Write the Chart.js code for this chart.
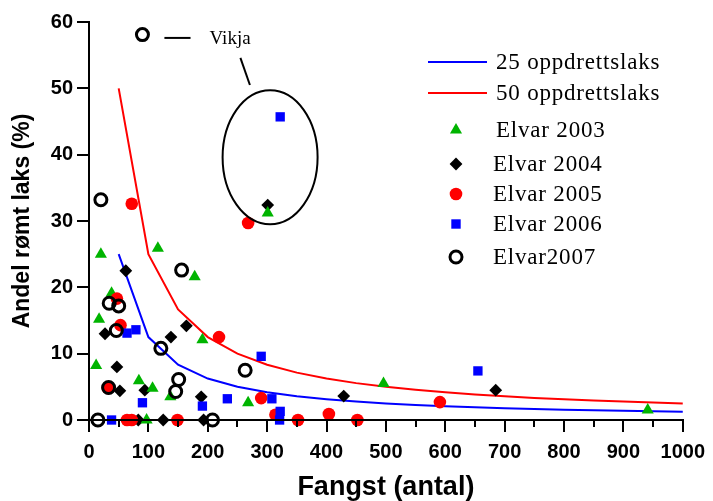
<!DOCTYPE html>
<html>
<head>
<meta charset="utf-8">
<script src="https://cdn.jsdelivr.net/npm/chart.js@4.4.0/dist/chart.umd.min.js"></script>
<style>
html, body { margin: 0; padding: 0; background: #fff; }
#wrap { width: 713px; height: 501px; }
</style>
</head>
<body>
<div id="wrap"><canvas id="chart" width="713" height="501"></canvas></div>
<script>
// Model curves (catch -> share of escaped salmon)
const curveX = [50, 100, 150, 200, 250, 300, 350, 400, 450, 500, 550, 600, 650, 700, 750, 800, 850, 900, 950, 1000];
const fish25 = [25, 12.5, 8.33, 6.25, 5, 4.17, 3.57, 3.13, 2.78, 2.5, 2.27, 2.08, 1.92, 1.79, 1.67, 1.56, 1.47, 1.39, 1.32, 1.25];
const fish50 = [50, 25, 16.67, 12.5, 10, 8.33, 7.14, 6.25, 5.56, 5, 4.55, 4.17, 3.85, 3.57, 3.33, 3.13, 2.94, 2.78, 2.63, 2.5];

// Rivers per year: [fangst, andel %]
const elvar2003 = [[12, 8.2], [20, 25], [17, 15.2], [38, 19.1], [116, 25.9], [178, 21.6], [191, 12.1], [84, 5.9],
    [107, 4.8], [137, 3.5], [97, 0], [268, 2.6], [301, 31.2], [496, 5.5], [941, 1.5]];
const elvar2004 = [[62, 22.5], [164, 14.2], [138, 12.5], [27, 13], [47, 8], [52, 4.4], [94, 4.5], [189, 3.5],
    [83, 0], [125, 0], [193, 0], [301, 32.4], [429, 3.6], [685, 4.5]];
const elvar2005 = [[72, 32.6], [268, 29.7], [47, 18.3], [53, 14.3], [32, 4.8], [219, 12.5], [290, 3.3], [64, 0],
    [72, 0], [149, 0], [314, 0.8], [352, 0], [404, 0.9], [452, 0], [591, 2.7]];
const elvar2006 = [[322, 45.7], [64, 13.1], [79, 13.6], [90, 2.6], [191, 2.1], [233, 3.2], [290, 9.6], [308, 3.2],
    [322, 1.3], [321, 0], [38, 0], [655, 7.4]];
const elvar2007 = [[90, 58.1], [20, 33.2], [156, 22.6], [34, 17.6], [50, 17.2], [46, 13.5], [121, 10.8], [33, 4.9],
    [263, 7.5], [151, 6.1], [146, 4.3], [15, 0], [208, 0]];

// Axis ticks
const xTickStep = 100;
const yTickStep = 10;

// Annotation (data coordinates)
const vikjaLabel = 'Vikja';
const vikjaLine = [[127, 57.6], [171, 57.6]];
const vikjaText = [203, 57.4];
const ellipseCenter = [305, 39.6];
const ellipseRadius = [80, 10.1];
const ellipsePointer = [[255, 54.6], [271, 50.5]];

const sansFont = '"Liberation Sans", Arial, sans-serif';
const serifFont = '"Liberation Serif", "Times New Roman", serif';

function pts(list) {
    return list.map(p => ({ x: p[0], y: p[1] }));
}

function curve(values) {
    return curveX.map((x, i) => ({ x: x, y: values[i] }));
}

const green = '#00b400';

// legend rows (drawn by plugin)
const legendRows = [
    { kind: 'line', color: '#0000ff', text: '25 oppdrettslaks' },
    { kind: 'line', color: '#ff0000', text: '50 oppdrettslaks' },
    { kind: 'triangle', color: green, text: 'Elvar 2003' },
    { kind: 'diamond', color: '#000', text: 'Elvar 2004' },
    { kind: 'circle', color: '#ff0000', text: 'Elvar 2005' },
    { kind: 'square', color: '#0000ff', text: 'Elvar 2006' },
    { kind: 'ring', color: '#000', text: 'Elvar2007' }
];
const legendY = [62, 93, 130, 164, 194, 224, 257];

function drawMarker(ctx, kind, x, y, color) {
    ctx.save();
    ctx.fillStyle = color;
    ctx.strokeStyle = color;
    ctx.beginPath();
    if (kind === 'triangle') {
        const r = 7;
        ctx.moveTo(x, y - r);
        ctx.lineTo(x + r * 0.866, y + r * 0.5);
        ctx.lineTo(x - r * 0.866, y + r * 0.5);
        ctx.closePath();
        ctx.fill();
    } else if (kind === 'diamond') {
        const r = 6.4;
        ctx.moveTo(x, y - r);
        ctx.lineTo(x + r, y);
        ctx.lineTo(x, y + r);
        ctx.lineTo(x - r, y);
        ctx.closePath();
        ctx.fill();
    } else if (kind === 'circle') {
        ctx.arc(x, y, 6.3, 0, Math.PI * 2);
        ctx.fill();
    } else if (kind === 'square') {
        ctx.rect(x - 4.7, y - 4.7, 9.4, 9.4);
        ctx.fill();
    } else if (kind === 'ring') {
        ctx.lineWidth = 3;
        ctx.arc(x, y, 6, 0, Math.PI * 2);
        ctx.stroke();
    }
    ctx.restore();
}

const extrasPlugin = {
    id: 'extras',
    afterDatasetsDraw(chart) {
        const ctx = chart.ctx;
        const xs = chart.scales.x;
        const ys = chart.scales.y;
        const px = v => xs.getPixelForValue(v);
        const py = v => ys.getPixelForValue(v);

        ctx.save();
        ctx.strokeStyle = '#000';
        ctx.lineWidth = 2;

        // Vikja pointer line
        ctx.beginPath();
        ctx.moveTo(px(vikjaLine[0][0]), py(vikjaLine[0][1]));
        ctx.lineTo(px(vikjaLine[1][0]), py(vikjaLine[1][1]));
        ctx.stroke();

        // ellipse around Vikja points
        const cx = px(ellipseCenter[0]);
        const cy = py(ellipseCenter[1]);
        const rx = px(ellipseCenter[0] + ellipseRadius[0]) - cx;
        const ry = cy - py(ellipseCenter[1] + ellipseRadius[1]);
        ctx.beginPath();
        ctx.ellipse(cx, cy, rx, ry, 0, 0, Math.PI * 2);
        ctx.stroke();

        ctx.beginPath();
        ctx.moveTo(px(ellipsePointer[0][0]), py(ellipsePointer[0][1]));
        ctx.lineTo(px(ellipsePointer[1][0]), py(ellipsePointer[1][1]));
        ctx.stroke();

        ctx.fillStyle = '#000';
        ctx.font = '19px ' + serifFont;
        ctx.textAlign = 'left';
        ctx.textBaseline = 'middle';
        ctx.fillText(vikjaLabel, px(vikjaText[0]), py(vikjaText[1]));
        ctx.restore();
    },
    afterDraw(chart) {
        const ctx = chart.ctx;
        const xs = chart.scales.x;
        const area = chart.chartArea;

        // minor x ticks
        ctx.save();
        ctx.strokeStyle = '#000';
        ctx.lineWidth = 2;
        for (let v = 50; v < 1000; v += 100) {
            const x = Math.round(xs.getPixelForValue(v));
            ctx.beginPath();
            ctx.moveTo(x, xs.top);
            ctx.lineTo(x, xs.top + 7);
            ctx.stroke();
        }

        // legend
        const lineX0 = area.left + 339;
        const lineX1 = area.left + 398;
        const markX = area.left + 367;
        ctx.font = '23px ' + serifFont;
        ctx.letterSpacing = '0.8px';
        ctx.textBaseline = 'middle';
        ctx.textAlign = 'left';
        legendRows.forEach((row, i) => {
            const y = area.top + legendY[i] - 22;
            if (row.kind === 'line') {
                ctx.strokeStyle = row.color;
                ctx.lineWidth = 2;
                ctx.beginPath();
                ctx.moveTo(lineX0, y);
                ctx.lineTo(lineX1, y);
                ctx.stroke();
            } else {
                drawMarker(ctx, row.kind, markX, y, row.color);
            }
            ctx.fillStyle = '#000';
            const tx = (i < 3) ? area.left + 407 : area.left + 404;
            ctx.fillText(row.text, tx, y + 1);
        });
        ctx.restore();
    }
};

const axisGrid = {
    drawOnChartArea: false,
    drawTicks: true,
    tickLength: 12,
    tickColor: '#000',
    tickWidth: 2,
    color: '#000',
    lineWidth: 2
};
const axisBorder = { color: '#000', width: 2, z: 1 };

const ctx = document.getElementById('chart').getContext('2d');
const chart = new Chart(ctx, {
    type: 'scatter',
    data: {
        datasets: [
            {
                label: 'Elvar2007',
                data: pts(elvar2007),
                pointStyle: 'circle',
                pointRadius: 6,
                borderWidth: 3,
                borderColor: '#000',
                backgroundColor: 'rgba(0,0,0,0)',
                clip: false
            },
            {
                label: 'Elvar 2006',
                data: pts(elvar2006),
                pointStyle: 'rect',
                pointRadius: 6.6,
                borderWidth: 0,
                borderColor: '#0000ff',
                backgroundColor: '#0000ff',
                clip: false
            },
            {
                label: 'Elvar 2005',
                data: pts(elvar2005),
                pointStyle: 'circle',
                pointRadius: 6.3,
                borderWidth: 0,
                borderColor: '#ff0000',
                backgroundColor: '#ff0000',
                clip: false
            },
            {
                label: 'Elvar 2003',
                data: pts(elvar2003),
                pointStyle: 'triangle',
                pointRadius: 7,
                borderWidth: 0,
                borderColor: green,
                backgroundColor: green,
                clip: false
            },
            {
                label: 'Elvar 2004',
                data: pts(elvar2004),
                pointStyle: 'rectRot',
                pointRadius: 6.4,
                borderWidth: 0,
                borderColor: '#000',
                backgroundColor: '#000',
                clip: false
            },
            {
                label: '25 oppdrettslaks',
                data: curve(fish25),
                showLine: true,
                pointRadius: 0,
                borderColor: '#0000ff',
                borderWidth: 2,
                tension: 0,
                fill: false,
                clip: false
            },
            {
                label: '50 oppdrettslaks',
                data: curve(fish50),
                showLine: true,
                pointRadius: 0,
                borderColor: '#ff0000',
                borderWidth: 2,
                tension: 0,
                fill: false,
                clip: false
            }
        ]
    },
    options: {
        responsive: false,
        animation: false,
        devicePixelRatio: 1,
        events: [],
        layout: {
            padding: { left: 0, right: 27, top: 22, bottom: 0 }
        },
        plugins: {
            legend: { display: false },
            tooltip: { enabled: false }
        },
        scales: {
            x: {
                type: 'linear',
                min: 0,
                max: 1000,
                ticks: {
                    stepSize: xTickStep,
                    color: '#000',
                    padding: 8,
                    maxRotation: 0,
                    font: { family: sansFont, size: 20, weight: 'bold' },
                    callback: function(value) { return String(value); }
                },
                grid: axisGrid,
                border: axisBorder,
                title: {
                    display: true,
                    text: 'Fangst (antal)',
                    color: '#000',
                    font: { family: sansFont, size: 27, weight: 'bold', lineHeight: 1.2 },
                    padding: { top: 0, bottom: -3 }
                },
                afterFit: function(scale) { scale.height = 81; }
            },
            y: {
                type: 'linear',
                min: 0,
                max: 60,
                ticks: {
                    stepSize: yTickStep,
                    color: '#000',
                    padding: 4,
                    font: { family: sansFont, size: 20, weight: 'bold' },
                    callback: function(value) { return String(value); }
                },
                grid: axisGrid,
                border: axisBorder,
                title: {
                    display: true,
                    text: 'Andel rømt laks (%)',
                    color: '#000',
                    font: { family: sansFont, size: 23, weight: 'bold', lineHeight: 1.2 },
                    padding: { top: 9, bottom: 0 }
                },
                afterFit: function(scale) { scale.width = 89; }
            }
        }
    },
    plugins: [extrasPlugin]
});
</script>
</body>
</html>
